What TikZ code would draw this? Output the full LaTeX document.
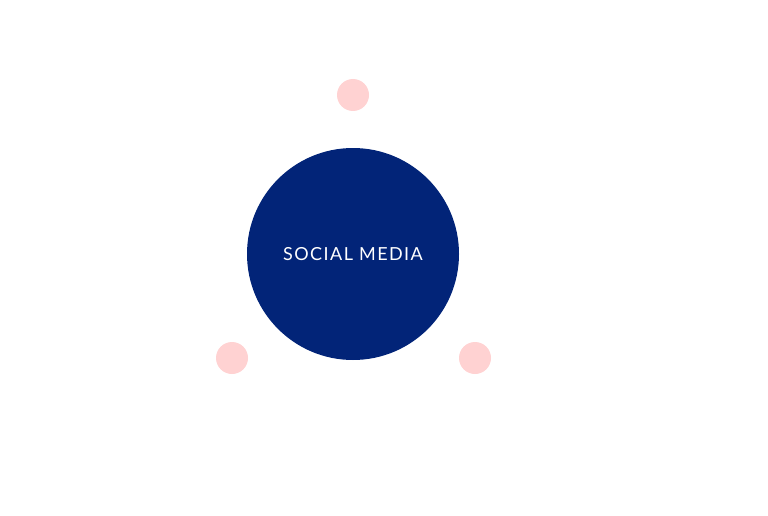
\documentclass[tikz,border=0pt]{standalone}
\usepackage{fontspec}
\newfontfamily\labelfont[LetterSpace=8]{Lato}
\definecolor{navy}{HTML}{022478}
\definecolor{pinkdot}{HTML}{FFD2D2}
\begin{document}
\begin{tikzpicture}[x=1pt,y=-1pt,
  dot/.style={circle,fill=pinkdot,minimum size=32pt,inner sep=0pt}]
\useasboundingbox (0,0) rectangle (768,516);
\node[circle,fill=navy,minimum size=212pt,inner sep=0pt,text=white,font=\labelfont\fontsize{18}{20}\selectfont] (hub) at (353,254) {SOCIAL MEDIA};
\node[dot] (top) at (353,95) {};
\node[dot] (left) at (232,358) {};
\node[dot] (right) at (475,358) {};
\end{tikzpicture}
\end{document}
